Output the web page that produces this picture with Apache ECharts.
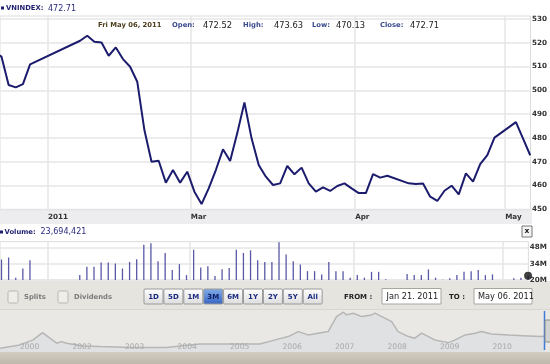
<!DOCTYPE html>
<html><head><meta charset="utf-8">
<script src="https://cdn.jsdelivr.net/npm/echarts@6/dist/echarts.min.js"></script>
<style>html,body{margin:0;padding:0;background:#fff}#c{width:550px;height:364px}</style>
</head><body><div id="c"></div>
<script>
// ---------- DATA ----------
const dates = [
 'Jan 21',
 'Jan 24','Jan 25','Jan 26','Jan 27','Jan 28',
 'Jan 31','Feb 1','Feb 2','Feb 3','Feb 4',
 'Feb 7','Feb 8','Feb 9','Feb 10','Feb 11',
 'Feb 14','Feb 15','Feb 16','Feb 17','Feb 18',
 'Feb 21','Feb 22','Feb 23','Feb 24','Feb 25',
 'Feb 28','Mar 1','Mar 2','Mar 3','Mar 4',
 'Mar 7','Mar 8','Mar 9','Mar 10','Mar 11',
 'Mar 14','Mar 15','Mar 16','Mar 17','Mar 18',
 'Mar 21','Mar 22','Mar 23','Mar 24','Mar 25',
 'Mar 28','Mar 29','Mar 30','Mar 31','Apr 1',
 'Apr 4','Apr 5','Apr 6','Apr 7','Apr 8',
 'Apr 11','Apr 12','Apr 13','Apr 14','Apr 15',
 'Apr 18','Apr 19','Apr 20','Apr 21','Apr 22',
 'Apr 25','Apr 26','Apr 27','Apr 28','Apr 29',
 'May 2','May 3','May 4','May 5','May 6'
];
const close = [
 516, 514.1, 502.2, 501.2, 502.6, 510.9,
 null, null, null, null, null, null,
 520.8, 522.9, 520.4, 520.1, 514.5, 518.0, 513.1, 509.9, 503.6,
 483.3, 470.0, 470.4, 461.2, 466.5, 461.2, 465.8, 457.4, 452.2, 458.8,
 466.5, 475.2, 470.3, 482.0, 494.9, 479.8, 468.6, 463.7, 460.2, 460.9,
 468.2, 464.7, 467.5, 460.9, 457.4, 459.2, 457.7, 459.8, 460.9, 458.8,
 456.8, 456.8, 464.8, 463.3, 464.1, null, null, 460.9, 460.6, 460.8,
 455.3, 453.5, 457.8, 459.9, 456.3, 465.1, 461.6, 469.0, 472.8, 480.1,
 null, null, 486.6, 479.7, 472.71
];
// volume in millions of shares
const volume = [
 35, 37.6, 39.3, 22.0, 29.9, 37.0,
 null, null, null, null, null, null,
 24.2, 31.3, 31.3, 35.0, 35.0, 34.2, 29.9, 35.5, 37.8,
 50.3, 51.6, 36.1, 43.2, 28.5, 33.6, 24.2, 46.0, 30.8, 31.9,
 23.4, 29.3, 30.4, 46.0, 43.2, 45.5, 37.0, 35.5, 35.5, 52.5,
 41.8, 36.1, 33.3, 27.6, 27.6, 24.8, 35.5, 27.6, 27.6, 22.0,
 24.2, 22.0, 27.0, 27.0, 20.6, null, null, 25.1, 24.2, 24.2,
 29.1, 22.0, 20.3, 21.4, 24.2, 27.0, 27.6, 28.5, 24.2, 24.8,
 null, null, 21.4, 22.0, 23.69
];
const monthStarts = ['Feb 1','Mar 1','Apr 1','May 2'];
const monthLabels = ['2011','Mar','Apr','May'];
const priceTicks = [450,460,470,480,490,500,510,520,530];
const volTicks = [20,34,48];

// overview (navigator) history
const navYear  = [2000.62,2001.0,2001.25,2001.43,2001.57,2001.7,2001.79,2001.89,2002.2,2002.52,2003.15,2003.79,2004.05,2004.43,2005.06,2005.57,2005.86,2006.11,2006.3,2006.49,2006.68,2006.87,2007.03,2007.16,2007.22,2007.35,2007.51,2007.7,2007.76,2007.95,2008.08,2008.2,2008.4,2008.52,2008.65,2008.78,2008.9,2009.16,2009.29,2009.48,2009.67,2009.79,2009.98,2010.3,2010.68,2010.94,2011.0];
const navValue = [112,209,356,570,406,259,306,259,179,159,129,129,179,238,238,238,356,453,600,503,553,600,1041,1170,1091,1141,1041,1091,1141,994,894,600,453,406,553,453,356,276,356,503,553,600,532,503,473,453,470];
const navTickYears  = [2001,2002,2003,2004,2005,2006,2007,2008,2009,2010];
const navTickLabels = ['2000','2002','2003','2004','2005','2006','2007','2008','2009','2010'];

const quote = {name:'VNINDEX', last:'472.71', date:'Fri May 06, 2011', open:'472.52', high:'473.63', low:'470.13', close:'472.71', vol:'23,694,421'};
const rangeButtons = ['1D','5D','1M','3M','6M','1Y','2Y','5Y','All'];
const activeRange = '3M';
const fromDate = 'Jan 21. 2011', toDate = 'May 06. 2011';

// ---------- CHART ----------
const FONT = 'DejaVu Sans';
const priceData = close.map((v,i)=> v==null?null:[i,v]).filter(Boolean);
const volData = volume.map((v,i)=> v==null?null:[i,v]).filter(Boolean);
const navData = navYear.map((y,i)=>[y,navValue[i]]);
const monthTicks = monthStarts.map(d => dates.indexOf(d) + 0.5);
const lastIdx = dates.length - 1;
const GRID = '#e6e6e6';

const chart = echarts.init(document.getElementById('c'));
const txt = (x,y,t,o={}) => ({type:'text', z:100, silent:true, style:Object.assign({x, y, text:t, fontFamily:FONT, fontSize:7, fontWeight:'bold', fill:'#222', verticalAlign:'middle', align:'left'}, o)});

const graphics = [
  {type:'rect', z:-10, shape:{x:0,y:209.3,width:532,height:14.7}, style:{fill:'#ededf0'}},
  {type:'rect', z:-10, shape:{x:0,y:281,width:550,height:83}, style:{fill:'#e6e4df'}},
  {type:'rect', z:-10, shape:{x:0,y:309,width:550,height:43}, style:{fill:'#eae8e4'}},
  {type:'line', z:-9, shape:{x1:0,y1:309.5,x2:550,y2:309.5}, style:{stroke:'#dad7d0',lineWidth:1}},
  {type:'rect', z:-10, shape:{x:0,y:352,width:550,height:12}, style:{fill:new echarts.graphic.LinearGradient(0,0,0,1,[{offset:0,color:'#d2cdc2'},{offset:1,color:'#bdb7ab'}])}},
  // header
  {type:'rect', z:100, shape:{x:1,y:6.5,width:3,height:3}, style:{fill:'#1f1f6f'}},
  txt(6,8.5,quote.name+':',{fill:'#1f1f6f',fontSize:6.8}),
  txt(48,8.5,quote.last,{fill:'#2a2a80',fontWeight:'normal',fontSize:8}),
  txt(98,25.5,quote.date,{fill:'#4e3e1e',fontSize:6.8}),
  txt(172,25.5,'Open:',{fill:'#3b4a8c',fontSize:6.8}),
  txt(203,25.5,quote.open,{fontWeight:'normal',fontSize:8.3}),
  txt(243,25.5,'High:',{fill:'#3b4a8c',fontSize:6.8}),
  txt(274,25.5,quote.high,{fontWeight:'normal',fontSize:8.3}),
  txt(312,25.5,'Low:',{fill:'#3b4a8c',fontSize:6.8}),
  txt(336,25.5,quote.low,{fontWeight:'normal',fontSize:8.3}),
  txt(380,25.5,'Close:',{fill:'#3b4a8c',fontSize:6.8}),
  txt(410,25.5,quote.close,{fontWeight:'normal',fontSize:8.3}),
  // volume header
  {type:'rect', z:100, shape:{x:0,y:230.5,width:3,height:3}, style:{fill:'#1f1f6f'}},
  txt(4.5,232,'Volume:',{fill:'#1f1f6f',fontSize:6.8}),
  txt(40.5,232,quote.vol,{fill:'#2a2a80',fontWeight:'normal',fontSize:8}),
  {type:'rect', z:100, shape:{x:522,y:226,width:10,height:11}, style:{fill:'#f5f5f5',stroke:'#777',lineWidth:1}},
  txt(527,231.3,'x',{align:'center',fontSize:7.5}),
  // checkboxes
  {type:'rect', z:100, shape:{x:8,y:291,width:10,height:12,r:1.5}, style:{fill:'#efeeea',stroke:'#bab7b0',lineWidth:1}},
  txt(24,297.5,'Splits',{fill:'#7a7a7a',fontSize:6.8}),
  {type:'rect', z:100, shape:{x:58,y:291,width:10,height:12,r:1.5}, style:{fill:'#efeeea',stroke:'#bab7b0',lineWidth:1}},
  txt(74,297.5,'Dividends',{fill:'#7a7a7a',fontSize:6.8}),
  // from / to
  txt(344,297.5,'FROM :',{fontSize:7}),
  {type:'rect', z:100, shape:{x:382,y:288.5,width:59,height:15.5}, style:{fill:'#fff',stroke:'#a9a6a0',lineWidth:1}},
  txt(386.5,296.5,fromDate,{fontWeight:'normal',fontSize:8.2}),
  txt(449,297.5,'TO :',{fontSize:7}),
  {type:'rect', z:100, shape:{x:474,y:288.5,width:58,height:15.5}, style:{fill:'#fff',stroke:'#a9a6a0',lineWidth:1}},
  txt(478,296.5,toDate,{fontWeight:'normal',fontSize:8.2}),
  // navigator handle
  {type:'line', z:100, shape:{x1:544.5,y1:311,x2:544.5,y2:350}, style:{stroke:'#3c7ad8',lineWidth:1.5}},
  {type:'rect', z:100, shape:{x:545,y:320,width:6,height:22,r:1}, style:{fill:'#d3d3d3',stroke:'#8a8a8a',lineWidth:1}}
];
rangeButtons.forEach((b,i)=>{
  const x = 144 + i*19.9;
  const act = b===activeRange;
  graphics.push({type:'rect', z:99, shape:{x:x,y:289,width:19,height:15,r:1},
    style:{fill: act ? new echarts.graphic.LinearGradient(0,0,0,1,[{offset:0,color:'#86aee8'},{offset:1,color:'#3564c4'}])
                     : new echarts.graphic.LinearGradient(0,0,0,1,[{offset:0,color:'#ffffff'},{offset:1,color:'#dcdcdc'}]),
           stroke:'#9a9a9a', lineWidth:1}});
  graphics.push(txt(x+9.5,296.7,b,{align:'center',fill:act?'#0c1c60':'#1a2a80',fontSize:7}));
});

const axisText = {fontFamily:FONT, fontSize:7.2, fontWeight:'bold', color:'#333'};

chart.setOption({
  animation:false,
  backgroundColor:'#fff',
  grid:[
    {left:0, top:16, width:532, height:193.3, show:true, borderColor:'#dcdcdc', borderWidth:1},
    {left:0, top:241.7, width:532, height:38.3, show:true, borderColor:'#dcdcdc', borderWidth:1},
    {left:0, top:310, width:545, height:42}
  ],
  xAxis:[
    {type:'value', gridIndex:0, min:0.79, max:75.04,
     axisLine:{show:false}, axisTick:{show:false, customValues:monthTicks},
     axisLabel:Object.assign({customValues:monthTicks, formatter:v=>monthLabels[monthTicks.indexOf(v)]||'', align:'left', margin:4}, axisText),
     splitLine:{show:true, lineStyle:{color:GRID, width:1.5}}},
    {type:'value', gridIndex:1, min:0.79, max:75.04,
     axisLine:{show:false}, axisTick:{show:false, customValues:monthTicks}, axisLabel:{show:false},
     splitLine:{show:true, lineStyle:{color:GRID, width:1.5}}},
    {type:'value', gridIndex:2, min:2000.62, max:2011.0, z:10,
     axisLine:{show:false}, axisTick:{show:false, customValues:navTickYears}, splitLine:{show:false},
     axisLabel:{customValues:navTickYears, inside:true, margin:1, formatter:v=>navTickLabels[navTickYears.indexOf(v)]||'', align:'left',
       color:'#a9a9a9', fontFamily:FONT, fontSize:7.6}}
  ],
  yAxis:[
    {type:'value', gridIndex:0, position:'right', min:450, max:531.2,
     axisLine:{show:false}, axisTick:{show:false, customValues:priceTicks},
     axisLabel:Object.assign({customValues:priceTicks, margin:1.5}, axisText),
     splitLine:{show:true, lineStyle:{color:GRID, width:1.5}}},
    {type:'value', gridIndex:1, position:'right', min:20, max:52.9,
     axisLine:{show:false}, axisTick:{show:false, customValues:volTicks},
     axisLabel:Object.assign({customValues:volTicks, margin:1.5, formatter:v=>v+'M'}, axisText),
     splitLine:{show:true, lineStyle:{color:GRID, width:1.5}}},
    {type:'value', gridIndex:2, min:0, max:1235, show:false}
  ],
  series:[
    {type:'line', name:'VNINDEX', xAxisIndex:0, yAxisIndex:0, data:priceData, symbol:'none', z:5,
     lineStyle:{color:'#1c1c6e', width:2}},
    {type:'bar', name:'Volume', xAxisIndex:1, yAxisIndex:1, data:volData, barWidth:1.3,
     itemStyle:{color:'#5858a6'}},
    {type:'scatter', xAxisIndex:1, yAxisIndex:1, data:[[lastIdx, volume[lastIdx]]], symbolSize:8, clip:false, z:6,
     itemStyle:{color:'#111'}},
    {type:'line', xAxisIndex:2, yAxisIndex:2, data:navData, symbol:'none',
     lineStyle:{color:'#b6b6b6', width:1.5}, areaStyle:{color:'#dcdee3'}}
  ],
  graphic:graphics
});
</script></body></html>
